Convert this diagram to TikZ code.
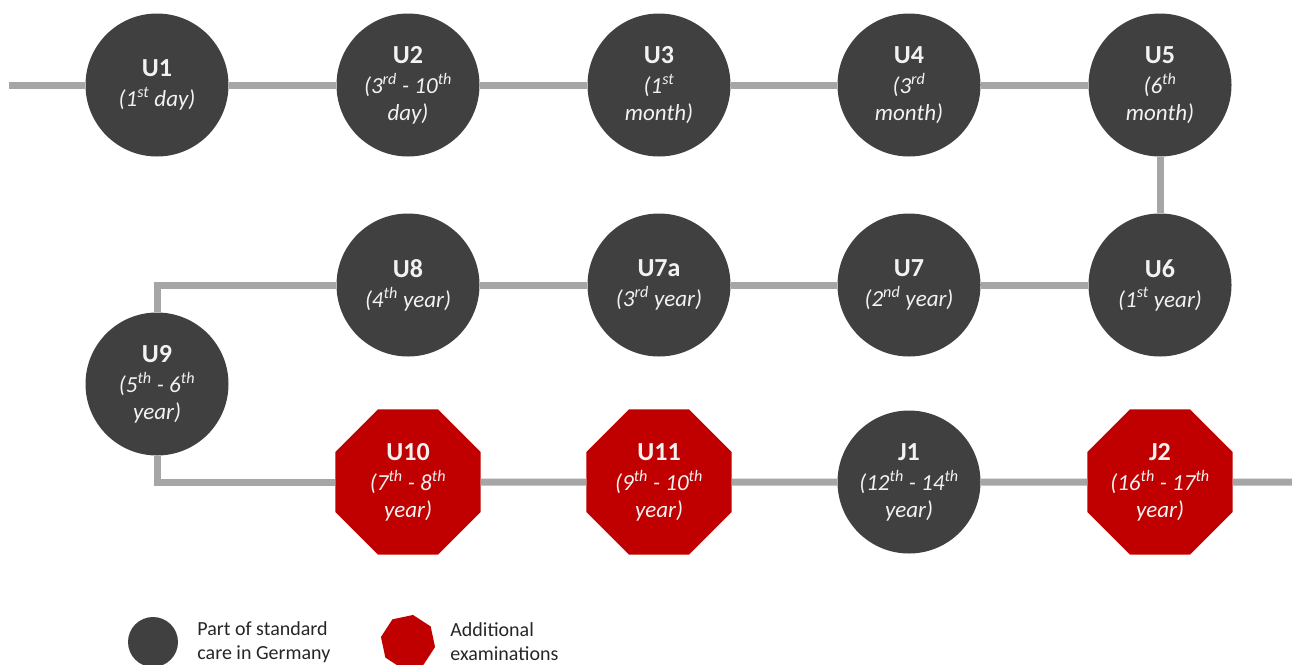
\documentclass[tikz,border=0pt]{standalone}
\usepackage{fontspec}
\setmainfont{Carlito}
\usetikzlibrary{shapes.geometric, positioning}
\definecolor{darkgrey}{HTML}{404040}
\definecolor{examred}{HTML}{C00000}
\definecolor{linegrey}{HTML}{A6A6A6}
\definecolor{labelwhite}{HTML}{F2F2F2}
\definecolor{legendtext}{HTML}{262626}
\newcommand{\examtitle}[1]{{\upshape\bfseries\fontsize{26}{27}\selectfont #1}\\[3pt]}

\begin{document}
\begin{tikzpicture}[x=1pt, y=-1pt,
    standard/.style={circle, fill=darkgrey, minimum size=143pt, inner sep=0pt,
      text=labelwhite, align=center, font=\fontsize{23}{27}\selectfont\itshape},
    extra/.style={regular polygon, regular polygon sides=8, fill=examred,
      minimum size=157pt, inner sep=0pt, text=labelwhite, align=center,
      font=\fontsize{23}{27}\selectfont\itshape},
    track/.style={draw=linegrey, line width=7pt},
    legendlabel/.style={align=left, inner sep=0pt, text=legendtext,
      font=\fontsize{20}{24}\selectfont}]
  \useasboundingbox (0,0) rectangle (1292,664);

  % first row
  \node[standard] (U1) at (157,  85) {\examtitle{U1}(1\textsuperscript{st} day)};
  \node[standard] (U2) at (408,  85) {\examtitle{U2}(3\textsuperscript{rd} - 10\textsuperscript{th}\\day)};
  \node[standard] (U3) at (659,  85) {\examtitle{U3}(1\textsuperscript{st}\\month)};
  \node[standard] (U4) at (909,  85) {\examtitle{U4}(3\textsuperscript{rd}\\month)};
  \node[standard] (U5) at (1160, 85) {\examtitle{U5}(6\textsuperscript{th}\\month)};

  % second row
  \node[standard] (U6)  at (1160, 285) {\examtitle{U6}(1\textsuperscript{st} year)};
  \node[standard] (U7)  at (909,  285) {\examtitle{U7}(2\textsuperscript{nd} year)};
  \node[standard] (U7a) at (659,  285) {\examtitle{U7a}(3\textsuperscript{rd} year)};
  \node[standard] (U8)  at (408,  285) {\examtitle{U8}(4\textsuperscript{th} year)};
  \node[standard] (U9)  at (157,  384) {\examtitle{U9}(5\textsuperscript{th} - 6\textsuperscript{th}\\year)};

  % third row
  \node[extra]    (U10) at (408,  482) {\examtitle{U10}(7\textsuperscript{th} - 8\textsuperscript{th}\\year)};
  \node[extra]    (U11) at (659,  482) {\examtitle{U11}(9\textsuperscript{th} - 10\textsuperscript{th}\\year)};
  \node[standard] (J1)  at (909,  482) {\examtitle{J1}(12\textsuperscript{th} - 14\textsuperscript{th}\\year)};
  \node[extra]    (J2)  at (1160, 482) {\examtitle{J2}(16\textsuperscript{th} - 17\textsuperscript{th}\\year)};

  % track ends
  \coordinate (start) at (9, 85);
  \coordinate (end)   at (1292, 482);

  % connecting track
  \draw[track] (start) -- (U1);
  \draw[track] (U1) -- (U2);
  \draw[track] (U2) -- (U3);
  \draw[track] (U3) -- (U4);
  \draw[track] (U4) -- (U5);
  \draw[track] (U5) -- (U6);
  \draw[track] (U6) -- (U7);
  \draw[track] (U7) -- (U7a);
  \draw[track] (U7a) -- (U8);
  \draw[track] (U8) -| (U9);
  \draw[track] (U9) |- (U10);
  \draw[track] (U10) -- (U11);
  \draw[track] (U11) -- (J1);
  \draw[track] (J1) -- (J2);
  \draw[track] (J2) -- (end);

  % legend
  \node[circle, fill=darkgrey, minimum size=50pt, inner sep=0pt] (legstd) at (153, 642) {};
  \node[legendlabel, right=19pt of legstd] (legstdtext) {Part of standard\\care in Germany};
  \node[regular polygon, regular polygon sides=8, shape border rotate=12, fill=examred,
    minimum size=55pt, inner sep=0pt] (legextra) at (408, 642) {};
  \node[legendlabel, right=16pt of legextra] (legextratext) {Additional\\examinations};
\end{tikzpicture}
\end{document}
